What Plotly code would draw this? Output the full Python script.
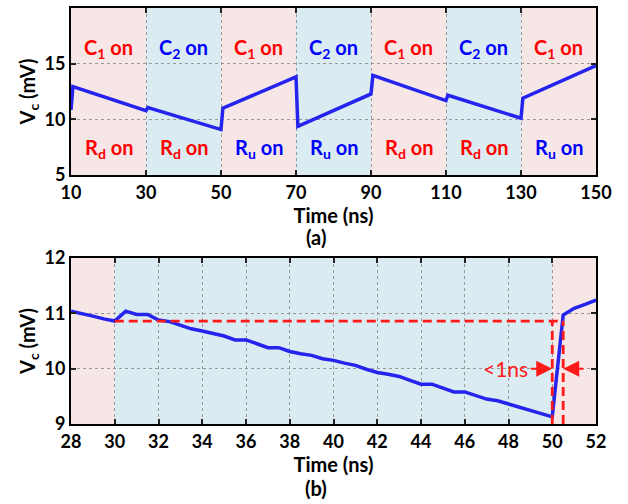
import plotly.graph_objects as go

# ---- data (a) ----
t_a = [10, 10.5, 30, 30.5, 50, 50.5, 70, 70.5, 90, 90.5, 110, 110.5, 130, 130.5, 150]
v_a = [10.84, 12.95, 10.78, 11.05, 9.08, 11.0, 13.82, 9.36, 12.28, 13.95, 11.68, 12.16, 10.1, 11.9, 14.82]

# phases (a)
phase_edges_a = [10, 30, 50, 70, 90, 110, 130, 150]
phase_kind_a = ["C1", "C2", "C1", "C2", "C1", "C2", "C1"]
top_labels = ["C<sub>1</sub> on", "C<sub>2</sub> on", "C<sub>1</sub> on", "C<sub>2</sub> on",
              "C<sub>1</sub> on", "C<sub>2</sub> on", "C<sub>1</sub> on"]
top_colors = ["red", "blue", "red", "blue", "red", "blue", "red"]
bot_labels = ["R<sub>d</sub> on", "R<sub>d</sub> on", "R<sub>u</sub> on", "R<sub>u</sub> on",
              "R<sub>d</sub> on", "R<sub>d</sub> on", "R<sub>u</sub> on"]
bot_colors = ["red", "red", "blue", "blue", "red", "red", "blue"]

# ---- data (b) ----
t_b = [28, 28.5, 29, 29.5, 30, 30.5, 31, 31.5, 32, 32.5, 33, 33.5, 34, 34.5, 35, 35.5,
       36, 36.5, 37, 37.5, 38, 38.5, 39, 39.5, 40, 40.5, 41, 41.5, 42, 42.5, 43, 43.5,
       44, 44.5, 45, 45.5, 46, 46.5, 47, 47.5, 48, 48.5, 49, 49.5, 50, 50.5, 51, 51.5, 52]
v_b = [11.04, 11.0, 10.95, 10.9, 10.86, 11.04, 10.98, 10.98, 10.88, 10.85, 10.79, 10.72,
       10.68, 10.63, 10.59, 10.52, 10.52, 10.45, 10.38, 10.38, 10.31, 10.27, 10.24, 10.18,
       10.15, 10.1, 10.06, 9.99, 9.93, 9.9, 9.86, 9.79, 9.72, 9.72, 9.65, 9.58, 9.58, 9.51,
       9.45, 9.42, 9.36, 9.3, 9.25, 9.19, 9.13, 10.97, 11.09, 11.16, 11.24]
phase_edges_b = [28, 30, 50, 52]
phase_kind_b = ["C1", "C2", "C1"]
ref_level = 10.86
ref_start, ref_t1, ref_t2 = 30, 50, 50.5
arrow_y = 10.0
arrow_tail_left, arrow_tail_right = 48.95, 51.5
arrow_label = "<1ns"

PINK = "#f6e6e6"
BLUE_BG = "#daecf1"
LINE = "#2424ee"
FONT = "Lato"
RED = "#ff1a1a"

fig = go.Figure()
fig.add_trace(go.Scatter(x=t_a, y=v_a, mode="lines", line=dict(color=LINE, width=3.5),
                         xaxis="x", yaxis="y", showlegend=False))
fig.add_trace(go.Scatter(x=t_b, y=v_b, mode="lines", line=dict(color=LINE, width=3.5),
                         xaxis="x2", yaxis="y2", showlegend=False))

shapes = []
for i, k in enumerate(phase_kind_a):
    shapes.append(dict(type="rect", xref="x", yref="y", x0=phase_edges_a[i], x1=phase_edges_a[i + 1],
                       y0=5, y1=20, fillcolor=PINK if k == "C1" else BLUE_BG, line_width=0, layer="below"))
for i, k in enumerate(phase_kind_b):
    shapes.append(dict(type="rect", xref="x2", yref="y2", x0=phase_edges_b[i], x1=phase_edges_b[i + 1],
                       y0=9, y1=12, fillcolor=PINK if k == "C1" else BLUE_BG, line_width=0, layer="below"))
dash = dict(color=RED, width=2.8, dash="9px,5px")
shapes.append(dict(type="line", xref="x2", yref="y2", x0=ref_start, x1=ref_t2, y0=ref_level, y1=ref_level, line=dash))
shapes.append(dict(type="line", xref="x2", yref="y2", x0=ref_t1, x1=ref_t1, y0=9, y1=ref_level, line=dash))
shapes.append(dict(type="line", xref="x2", yref="y2", x0=ref_t2, x1=ref_t2, y0=9, y1=ref_level, line=dash))

ML, MR, MT, MB = 71, 32, 8, 80
H = 504 - MT - MB
W = 628 - ML - MR

def px_x(px):
    return (px - ML) / W

def px_y(py):
    return (504 - MB - py) / H

annotations = []
for i in range(len(phase_kind_a)):
    xc = (phase_edges_a[i] + phase_edges_a[i + 1]) / 2
    annotations.append(dict(x=xc, y=16.4, xref="x", yref="y", text="<b>" + top_labels[i] + "</b>",
                            showarrow=False, font=dict(family=FONT, size=20, color=top_colors[i])))
    annotations.append(dict(x=xc, y=7.4, xref="x", yref="y", text="<b>" + bot_labels[i] + "</b>",
                            showarrow=False, font=dict(family=FONT, size=20, color=bot_colors[i])))
annotations.append(dict(x=ref_t1, y=arrow_y, xref="x2", yref="y2", ax=arrow_tail_left, ay=arrow_y,
                        axref="x2", ayref="y2", showarrow=True, arrowhead=2, arrowsize=1.6,
                        arrowwidth=2, arrowcolor=RED, text=""))
annotations.append(dict(x=ref_t2, y=arrow_y, xref="x2", yref="y2", ax=arrow_tail_right, ay=arrow_y,
                        axref="x2", ayref="y2", showarrow=True, arrowhead=2, arrowsize=1.6,
                        arrowwidth=2, arrowcolor=RED, text=""))
annotations.append(dict(x=arrow_tail_left, y=arrow_y, xref="x2", yref="y2", xanchor="right", text=arrow_label,
                        showarrow=False, xshift=1, font=dict(family=FONT, size=21, color=RED)))
annotations.append(dict(x=px_x(316), y=px_y(237), xref="paper", yref="paper", text="<b>(a)</b>",
                        showarrow=False, yanchor="middle", font=dict(family=FONT, size=20, color="black")))
annotations.append(dict(x=px_x(316), y=px_y(488), xref="paper", yref="paper", text="<b>(b)</b>",
                        showarrow=False, yanchor="middle", font=dict(family=FONT, size=20, color="black")))

TICKF = dict(family=FONT, size=18, color="black")
TITF = dict(family=FONT, size=20, color="black")
axcommon = dict(showline=True, linecolor="black", linewidth=2, mirror="allticks", ticks="inside",
                ticklen=5, tickwidth=2, tickcolor="#222", showgrid=True, gridcolor="#999",
                griddash="dot", gridwidth=1, zeroline=False, automargin=False, tickfont=TICKF)

def ydom(top_px, bot_px):
    return [px_y(bot_px), px_y(top_px)]

xa_vals = [10, 30, 50, 70, 90, 110, 130, 150]
xb_vals = list(range(28, 53, 2))
fig.update_layout(
    width=628, height=504, margin=dict(l=ML, r=MR, t=MT, b=MB),
    paper_bgcolor="white", plot_bgcolor="white",
    shapes=shapes, annotations=annotations,
    xaxis=dict(domain=[0, 1], anchor="y", range=[10, 150], tickvals=xa_vals,
               ticktext=["<b>%d</b>" % v for v in xa_vals],
               title=dict(text="<b>Time (ns)</b>", font=TITF, standoff=0), **axcommon),
    yaxis=dict(domain=ydom(8, 175), anchor="x", range=[5, 20], tickvals=[5, 10, 15, 20],
               ticktext=["<b>%d</b>" % v for v in [5, 10, 15, 20]],
               title=dict(text="<b>V<sub>c</sub> (mV)</b>", font=TITF, standoff=4), **axcommon),
    xaxis2=dict(domain=[0, 1], anchor="y2", range=[28, 52], tickvals=xb_vals,
                ticktext=["<b>%d</b>" % v for v in xb_vals],
                title=dict(text="<b>Time (ns)</b>", font=TITF, standoff=0), **axcommon),
    yaxis2=dict(domain=ydom(258, 424), anchor="x2", range=[9, 12], tickvals=[9, 10, 11, 12],
                ticktext=["<b>%d</b>" % v for v in [9, 10, 11, 12]],
                title=dict(text="<b>V<sub>c</sub> (mV)</b>", font=TITF, standoff=4), **axcommon),
)
fig.write_html("out.html")
